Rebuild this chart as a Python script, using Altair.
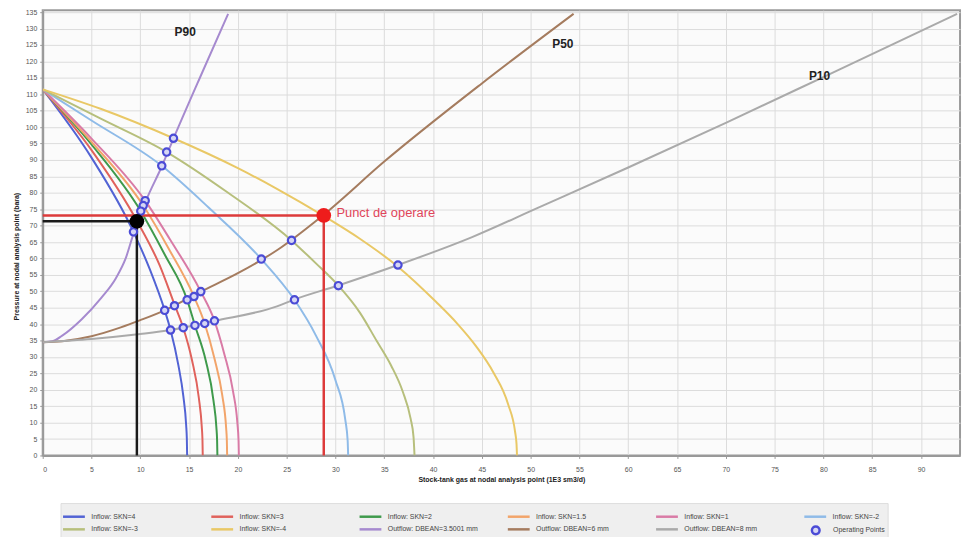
import altair as alt
import pandas as pd

# ---------------- data ----------------
# Inflow (IPR) curves: rate (1E3 sm3/d) and pressure (bara)
skn4_q = [0, 5, 9.3, 11, 12.5, 13.1, 13.9, 14.4, 14.7, 14.77, 14.8]
skn4_p = [111.5, 90.7, 68.1, 56.5, 44.2, 38.2, 27.5, 18.3, 9.2, 5, 0]
skn3_q = [0, 5, 9.7, 12, 13.5, 14.4, 15.3, 16.0, 16.3, 16.37, 16.4]
skn3_p = [111.5, 93, 71.2, 57.8, 46, 38.9, 29, 17.5, 8.7, 4.8, 0]
skn2_q = [0, 5, 10.05, 12.5, 14.8, 15.6, 16.7, 17.5, 17.8, 17.87, 17.9]
skn2_p = [111.5, 94.7, 74.4, 61.2, 47.4, 39.6, 29, 16.7, 8.4, 4.6, 0]
skn15_q = [0, 5, 10.3, 13, 15.5, 16.6, 17.6, 18.4, 18.8, 18.87, 18.9]
skn15_p = [111.5, 95.5, 76.1, 62.5, 48.4, 40.2, 29.5, 18.3, 8.2, 4.5, 0]
skn1_q = [0, 5, 10.5, 13, 16.2, 17.6, 18.6, 19.5, 19.95, 20.07, 20.1]
skn1_p = [111.5, 96.5, 77.6, 66, 49.9, 41, 31, 19.6, 9.8, 4.4, 0]
sknm2_q = [0, 5, 12.2, 17, 22.4, 25.8, 28, 30, 31, 31.25, 31.3]
sknm2_p = [111.5, 102, 88.2, 75.5, 59.8, 47.4, 36.5, 22.9, 11, 4.5, 0]
sknm3_q = [0, 6, 12.7, 19, 25.5, 28, 30.3, 32.5, 34.2, 35.7, 36.9, 37.7, 38.0, 38.1]
sknm3_p = [111.5, 102.5, 92.4, 80, 65.5, 58.5, 51.7, 43.5, 35, 27.4, 19.4, 11.2, 5.6, 0]
sknm4_q = [0, 6, 13.4, 20, 24, 28.7, 32.5, 36.4, 40.3, 42.5, 44.4, 46.2, 47.7, 48.4, 48.55, 48.6]
sknm4_p = [111.5, 105.5, 96.6, 87.5, 81.2, 73.1, 66, 57.5, 46.8, 40.1, 33.3, 25.2, 15.5, 7.3, 3.6, 0]

# Outflow (VLP) curves
p90_q = [0, 1, 2, 4, 6, 7.5, 8.5, 9.3, 10.05, 10.5, 12.2, 13.4, 16.4, 19.0]
p90_p = [34.5, 34.8, 36.5, 41.5, 48, 54, 60, 67.5, 73.5, 77, 88, 96.5, 117, 134.5]
p50_q = [0, 2, 5, 8, 10, 12.5, 16.2, 20, 24, 28.7, 35, 45, 54.4]
p50_p = [34.5, 34.8, 36.3, 39, 41.2, 44.2, 49.9, 55.5, 62.5, 73.1, 89.5, 113.3, 134.5]
p10_q = [0, 5, 10, 13.1, 17.6, 24, 25.7, 30.2, 36.4, 44, 50.5, 60, 70, 80.1, 93.7]
p10_p = [34.5, 35.5, 37, 38.2, 41, 45.4, 47.4, 51.7, 58, 66.5, 75.1, 87.7, 101.3, 115.4, 134.5]

series_names = [
    "Inflow: SKN=4", "Inflow: SKN=3", "Inflow: SKN=2", "Inflow: SKN=1.5",
    "Inflow: SKN=1", "Inflow: SKN=-2", "Inflow: SKN=-3", "Inflow: SKN=-4",
    "Outflow: DBEAN=3.5001 mm", "Outflow: DBEAN=6 mm", "Outflow: DBEAN=8 mm",
]
series_colors = [
    "#5263d4", "#e0625c", "#3f9a4c", "#f2a46a", "#d97ba6", "#8fbbe8",
    "#b7bf7c", "#e9c866", "#a68acf", "#a57c5f", "#aaaaaa",
]
series_q = [skn4_q, skn3_q, skn2_q, skn15_q, skn1_q, sknm2_q, sknm3_q, sknm4_q,
            p90_q, p50_q, p10_q]
series_p = [skn4_p, skn3_p, skn2_p, skn15_p, skn1_p, sknm2_p, sknm3_p, sknm4_p,
            p90_p, p50_p, p10_p]

# Operating points (intersections)
op_q = [13.4, 12.7, 12.2, 10.5, 10.3, 10.05, 9.7, 9.3,
        25.5, 22.4, 16.2, 15.5, 14.8, 13.5, 12.5,
        36.4, 30.3, 25.8, 17.6, 16.6, 15.6, 14.4, 13.1]
op_p = [96.6, 92.4, 88.2, 77.6, 76.1, 74.4, 71.2, 68.1,
        65.5, 59.8, 49.9, 48.4, 47.4, 45.6, 44.2,
        58.0, 51.7, 47.4, 41.0, 40.2, 39.6, 38.9, 38.2]

# Highlighted operating points and guide lines
red_q, red_p = 28.8, 73.1
black_q, black_p = 9.65, 71.3

# Curve labels
lab_text = ["P90", "P50", "P10"]
lab_q = [14.6, 53.3, 79.6]
lab_p = [129.0, 125.3, 115.4]

x_ticks = list(range(0, 95, 5))
y_ticks = list(range(0, 140, 5))

# ---------------- build tables ----------------
rows = []
for name, qs, ps in zip(series_names, series_q, series_p):
    for i, (q, p) in enumerate(zip(qs, ps)):
        rows.append({"series": name, "q": q, "p": p, "o": i})
lines_df = pd.DataFrame(rows)
ops_df = pd.DataFrame({"q": op_q, "p": op_p, "kind": ["Operating Points"] * len(op_q)})

FONT = "Liberation Sans"
XD = [0, 94.0]
YD = [0, 135.6]

xs = alt.Scale(domain=XD, nice=False, zero=False)
ys = alt.Scale(domain=YD, nice=False, zero=False)

x_axis = alt.Axis(values=x_ticks, title="Stock-tank gas at nodal analysis point (1E3 sm3/d)",
                  grid=True, gridColor="#dcdcdc", labelFontSize=7, labelColor="#555",
                  titleFontSize=7, titleFontWeight="bold", titleColor="#222",
                  tickColor="#999", tickSize=3, domainColor="#999", domainWidth=2,
                  labelPadding=7, titlePadding=3, labelOverlap=False)
y_axis = alt.Axis(values=y_ticks, title="Pressure at nodal analysis point (bara)",
                  grid=True, gridColor="#dcdcdc", labelFontSize=7, labelColor="#555",
                  titleFontSize=7, titleFontWeight="bold", titleColor="#222",
                  tickColor="#999", tickSize=3, domainColor="#999", domainWidth=2,
                  labelPadding=3, titlePadding=6, labelOverlap=False, titleY=248)


def X(field):
    return alt.X(field, scale=xs, axis=x_axis)


def Y(field):
    return alt.Y(field, scale=ys, axis=y_axis)


lines = alt.Chart(lines_df).mark_line(strokeWidth=2, clip=True, interpolate="monotone").encode(
    x=X("q:Q"),
    y=Y("p:Q"),
    color=alt.Color("series:N", scale=alt.Scale(domain=series_names, range=series_colors),
                    sort=series_names,
                    legend=alt.Legend(orient="none", legendX=18, legendY=497, columns=6,
                                      direction="horizontal", zindex=0,
                                      title=None, symbolType="M-2.75,0H2.75", symbolSize=64,
                                      symbolStrokeWidth=2.5, labelFontSize=7, labelColor="#444",
                                      labelFont=FONT, gridAlign="all", columnPadding=24.5,
                                      rowPadding=2, fillColor="#efefef", strokeColor="#dddddd",
                                      padding=8, labelLimit=200, labelOffset=12)),
    detail="series:N",
    order="o:Q",
)

guide_df = pd.DataFrame({
    "x": [0, red_q, 0, black_q],
    "x2": [red_q, red_q, black_q, black_q],
    "y": [red_p, 0, black_p, 0],
    "y2": [red_p, red_p, black_p, black_p],
    "c": ["red", "red", "black", "black"],
})
guides = alt.Chart(guide_df).mark_rule(strokeWidth=2.5).encode(
    x=X("x:Q"), x2="x2:Q", y=Y("y:Q"), y2="y2:Q",
    color=alt.Color("c:N", scale=alt.Scale(domain=["red", "black"], range=["#dd3a3a", "#1a1a1a"]),
                    legend=None),
)

points = alt.Chart(ops_df).mark_point(filled=True, fill="#d6d6f4", size=55, strokeWidth=2.2,
                                      opacity=1).encode(
    x=X("q:Q"), y=Y("p:Q"),
    stroke=alt.Stroke("kind:N", scale=alt.Scale(domain=["Operating Points"], range=["#4b4bd6"]),
                      legend=alt.Legend(orient="none", legendX=774, legendY=519, title=None,
                                        zindex=2,
                                        symbolType="circle", symbolSize=60, symbolStrokeWidth=2.5,
                                        symbolFillColor="#ffffff", labelFontSize=7,
                                        labelColor="#444", labelFont=FONT, labelOffset=12,
                                        padding=0)),
)

big_df = pd.DataFrame({"q": [red_q, black_q], "p": [red_p, black_p], "c": ["red", "black"]})
big = alt.Chart(big_df).mark_circle(size=220, opacity=1).encode(
    x=X("q:Q"), y=Y("p:Q"),
    color=alt.Color("c:N", scale=alt.Scale(domain=["red", "black"], range=["#ee1c1c", "#000000"]),
                    legend=None),
)

ann_df = pd.DataFrame({"q": [red_q + 1.3], "p": [red_p + 0.6], "t": ["Punct de operare"]})
ann = alt.Chart(ann_df).mark_text(align="left", baseline="middle", fontSize=13,
                                  color="#e0455a", font=FONT).encode(
    x=X("q:Q"), y=Y("p:Q"), text="t:N")

lab_df = pd.DataFrame({"q": lab_q, "p": lab_p, "t": lab_text})
labs = alt.Chart(lab_df).mark_text(align="center", baseline="middle", fontSize=12,
                                   fontWeight="bold", color="#222", font=FONT).encode(
    x=X("q:Q"), y=Y("p:Q"), text="t:N")

chart = alt.layer(lines, guides, points, big, ann, labs).resolve_scale(
    color="independent"
).properties(
    width=925, height=449,
    autosize=alt.AutoSizeParams(type="none"),
    padding={"left": 35, "top": 0, "right": 4, "bottom": 80},
    background="#ffffff",
).configure_view(
    fill="#fbfbfb", stroke="#9a9a9a", strokeWidth=2
).configure_axis(
    labelFont=FONT, titleFont=FONT
)

chart.save("out.html", embed_options={"renderer": "svg", "actions": False})
